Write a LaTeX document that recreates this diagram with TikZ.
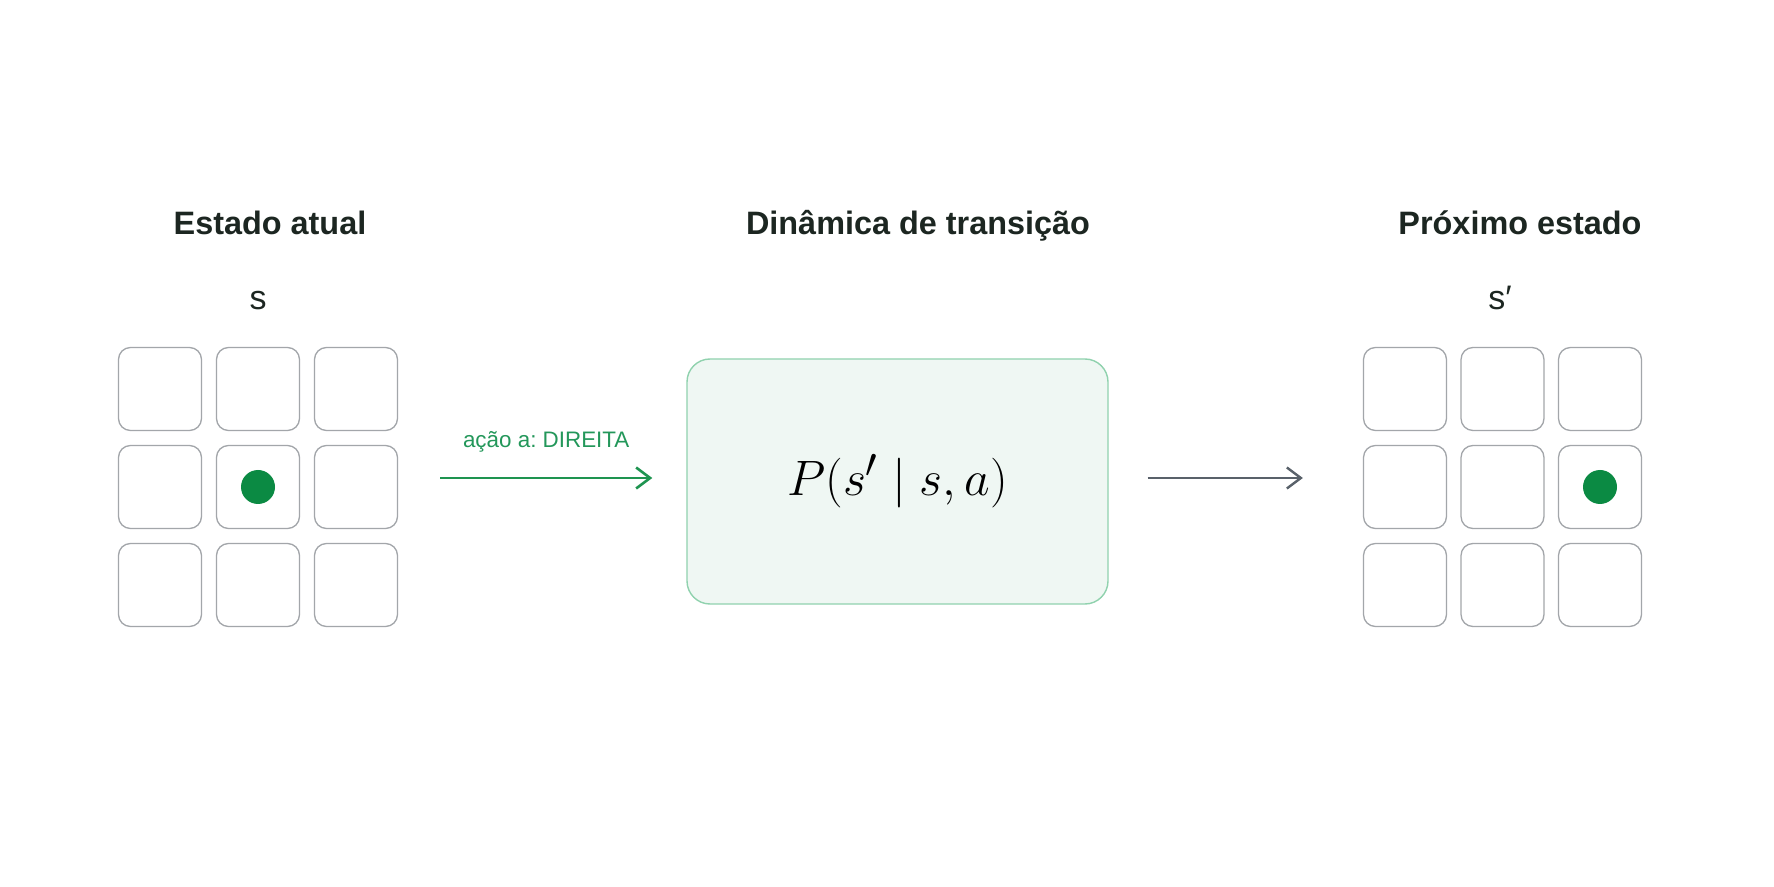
\documentclass[tikz,border=0pt]{standalone}
\usepackage{fontspec}
\setmainfont{Liberation Sans}
\usetikzlibrary{arrows.meta}
\definecolor{titlecol}{HTML}{1C2621}
\definecolor{greencol}{HTML}{1E9450}
\definecolor{labelcol}{HTML}{23975A}
\definecolor{dotcol}{HTML}{0B8A43}
\definecolor{graycol}{HTML}{59616A}
\definecolor{cellcol}{HTML}{A3A6AA}
\definecolor{boxfill}{HTML}{EFF7F3}
\definecolor{boxline}{HTML}{90D2AE}
\newcommand{\dynformula}{\raisebox{-1.75pt}{\fontsize{30}{35}\selectfont$P(s'\mid s,a)$}}
\tikzset{
  cellbox/.style={draw=cellcol, line width=0.65pt, rounded corners=6pt, minimum size=41.5pt, inner sep=0pt},
  dotnode/.style={circle, fill=dotcol, minimum size=17pt, inner sep=0pt},
  titletext/.style={font=\fontsize{16.2}{19}\selectfont\bfseries, text=titlecol, anchor=base},
  statetext/.style={font=\fontsize{17}{20}\selectfont, text=titlecol, anchor=base},
  garrow/.style={draw=greencol, line width=1.3pt, -{Straight Barb[length=7pt, width=10.5pt, line width=1.3pt]}},
  darrow/.style={draw=graycol, line width=1.2pt, -{Straight Barb[length=7pt, width=10.5pt, line width=1.2pt]}},
  dynbox/.style={draw=boxline, fill=boxfill, line width=0.7pt, rounded corners=11.5pt, minimum width=210.5pt, minimum height=122.5pt, inner sep=0pt}
}
\frenchspacing
\begin{document}
\begin{tikzpicture}[x=0.5pt, y=-0.5pt]
\useasboundingbox (0,0) rectangle (1774,887);
\fill[white] (0,0) rectangle (1774,887);
% titles
\node[titletext] (t1) at (270,235) {Estado atual};
\node[titletext] (t2) at (918,235) {Dinâmica de transição};
\node[titletext] (t3) at (1520,235) {Próximo estado};
% state labels
\node[statetext] (sl) at (258,310) {s};
\node[statetext] (sr) at (1500,310) {s′};
% left grid
\foreach \r/\y in {1/389,2/487,3/585}{
  \foreach \c/\x in {1/160,2/258,3/356}{
    \node[cellbox] (L\r\c) at (\x,\y) {};
  }
}
% right grid
\foreach \r/\y in {1/389,2/487,3/585}{
  \foreach \c/\x in {1/1405,2/1502.5,3/1600}{
    \node[cellbox] (R\r\c) at (\x,\y) {};
  }
}
\node[dotnode] (dl) at (L22.center) {};
\node[dotnode] (dr) at (R23.center) {};
% dynamics box
\node[dynbox] (box) at (897.5,481.5) {\dynformula};
% arrows
\coordinate (arrowy) at (0,478);
\draw[garrow] ([xshift=21pt]L23.east |- arrowy) -- ([xshift=-17pt]box.west |- arrowy)
  node[midway, above=9pt, font=\fontsize{11.2}{13}\selectfont, text=labelcol] (lab) {ação a: DIREITA};
\draw[darrow] ([xshift=19.5pt]box.east |- arrowy) -- ([xshift=-30pt]R21.west |- arrowy);
\end{tikzpicture}
\end{document}
